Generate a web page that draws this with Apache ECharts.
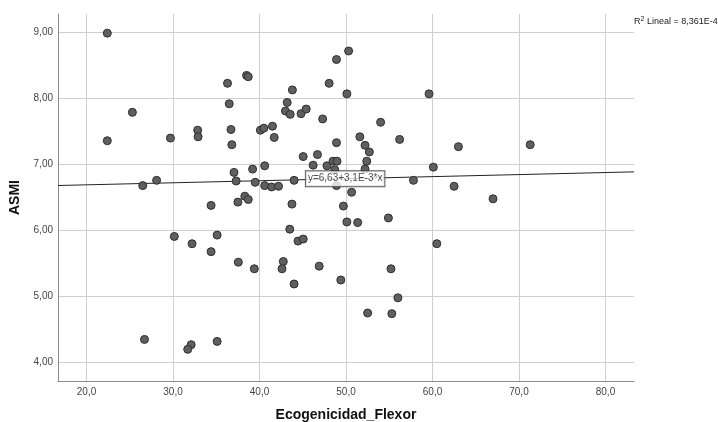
<!DOCTYPE html>
<html>
<head>
<meta charset="utf-8">
<script src="https://cdn.jsdelivr.net/npm/echarts@6/dist/echarts.min.js"></script>
<style>
  html, body { margin: 0; padding: 0; background: #fff; }
  #chart { width: 718px; height: 422px; }
</style>
</head>
<body>
<div id="chart"></div>
<script>
// Ecogenicidad_Flexor (x) / ASMI (y)
const ecogenicidad = [
  22.4, 25.3, 22.4, 29.7, 32.85, 32.9, 26.5, 28.1, 36.3, 36.5,
  36.7, 36.8, 38.5, 38.7, 37.05, 37.3, 39.2, 39.5, 37.5, 38.3,
  38.7, 34.4, 40.1, 40.5, 41.5, 41.7, 40.6, 40.6, 41.4, 42.2,
  43.0, 43.2, 43.55, 43.8, 44.0, 43.75, 44.8, 45.4, 45.05, 46.7,
  46.2, 47.3, 48.05, 47.8, 48.9, 48.9, 48.5, 48.96, 48.7, 50.3,
  50.1, 50.65, 49.7, 48.9, 51.6, 59.6, 54.0, 52.2, 52.7, 56.2,
  63.0, 71.3, 52.4, 52.2, 60.1, 57.8, 62.5, 67.0, 30.15, 32.2,
  35.1, 34.4, 37.55, 39.4, 43.5, 44.45, 45.05, 42.75, 42.6, 44.0,
  46.9, 49.4, 50.1, 51.35, 26.7, 32.1, 31.7, 35.1, 54.9, 60.5,
  55.2, 56.0, 52.5, 55.3
];
const asmi = [
  8.99, 7.79, 7.36, 7.40, 7.52, 7.42, 6.68, 6.76, 8.23, 7.92,
  7.53, 7.30, 8.35, 8.33, 6.88, 6.75, 6.93, 6.73, 6.43, 6.52,
  6.47, 6.38, 7.52, 7.55, 7.58, 7.41, 6.98, 6.68, 6.66, 6.67,
  7.81, 7.94, 7.76, 8.13, 6.76, 6.40, 7.77, 7.84, 7.12, 7.15,
  6.99, 7.69, 8.23, 6.98, 8.59, 7.33, 7.05, 7.05, 6.92, 8.72,
  8.07, 6.58, 6.37, 6.68, 7.42, 8.07, 7.64, 7.29, 7.19, 7.38,
  7.27, 7.30, 7.05, 6.93, 6.96, 6.76, 6.67, 6.48, 5.91, 5.80,
  5.93, 5.68, 5.52, 5.42, 6.02, 5.84, 5.87, 5.53, 5.42, 5.19,
  5.46, 5.25, 6.13, 6.12, 4.35, 4.27, 4.20, 4.32, 6.19, 5.80,
  5.42, 4.98, 4.75, 4.74
];

const xTicks = [20, 30, 40, 50, 60, 70, 80];
const yTicks = [4, 5, 6, 7, 8, 9];
const xRange = [16.7, 83.3];
const yRange = [3.72, 9.28];

// recta de ajuste lineal
const intercept = 6.63;
const slope = 3.1e-3;
const labelAt = 49.9;
const fitLabel = 'y=6,63+3,1E-3*x';
const r2Text = 'R{sup|2} Lineal = 8,361E-4';

const fmt = (v, d) => v.toFixed(d).replace('.', ',');
const fit = (x) => intercept + slope * x;

const points = ecogenicidad.map((x, i) => [x, asmi[i]]);

const chart = echarts.init(document.getElementById('chart'));
const font = '"Liberation Sans", Arial, sans-serif';

chart.setOption({
  animation: false,
  textStyle: { fontFamily: font },
  grid: { left: 58, right: 84, top: 14, bottom: 41, containLabel: false, outerBoundsMode: 'none' },
  xAxis: {
    type: 'value',
    min: xRange[0],
    max: xRange[1],
    name: 'Ecogenicidad_Flexor',
    nameLocation: 'middle',
    nameGap: 27,
    nameTextStyle: { fontSize: 14, fontWeight: 'bold', color: '#111' },
    axisLine: { show: true, onZero: false, lineStyle: { color: '#8c8c8c', width: 1 } },
    axisTick: { show: false, customValues: xTicks },
    axisLabel: {
      customValues: xTicks,
      fontSize: 10,
      color: '#444',
      margin: 6,
      formatter: (v) => fmt(v, 1)
    },
    splitLine: { show: true, lineStyle: { color: '#cfcfcf', width: 1 } }
  },
  yAxis: {
    type: 'value',
    min: yRange[0],
    max: yRange[1],
    name: 'ASMI',
    nameLocation: 'middle',
    nameGap: 30,
    nameRotate: 90,
    nameTextStyle: { fontSize: 14, fontWeight: 'bold', color: '#111' },
    axisLine: { show: true, onZero: false, lineStyle: { color: '#8c8c8c', width: 1 } },
    axisTick: { show: false, customValues: yTicks },
    axisLabel: {
      customValues: yTicks,
      fontSize: 10,
      color: '#444',
      margin: 5,
      formatter: (v) => fmt(v, 2)
    },
    splitLine: { show: true, lineStyle: { color: '#cfcfcf', width: 1 } }
  },
  graphic: [
    {
      type: 'text',
      left: 634,
      top: 16,
      style: {
        text: r2Text,
        fontSize: 9,
        fontFamily: font,
        fill: '#222',
        rich: { sup: { fontSize: 7, verticalAlign: 'top', padding: [0, 0, 5, 0] } }
      }
    }
  ],
  series: [
    {
      type: 'line',
      data: [[xRange[0], fit(xRange[0])], [xRange[1], fit(xRange[1])]],
      symbol: 'none',
      silent: true,
      lineStyle: { color: '#222', width: 1 },
      z: 2
    },
    {
      type: 'scatter',
      data: points,
      symbol: 'circle',
      symbolSize: 8,
      itemStyle: { color: '#5f5f5f', borderColor: '#2e2e2e', borderWidth: 1, opacity: 1 },
      z: 3
    },
    {
      type: 'scatter',
      data: [[labelAt, fit(labelAt)]],
      symbolSize: 0,
      silent: true,
      z: 5,
      label: {
        show: true,
        position: 'inside',
        formatter: fitLabel,
        fontSize: 10,
        color: '#222',
        backgroundColor: '#fff',
        borderColor: '#333',
        borderWidth: 1,
        padding: [3, 2, 2, 2]
      }
    }
  ]
});
</script>
</body>
</html>
